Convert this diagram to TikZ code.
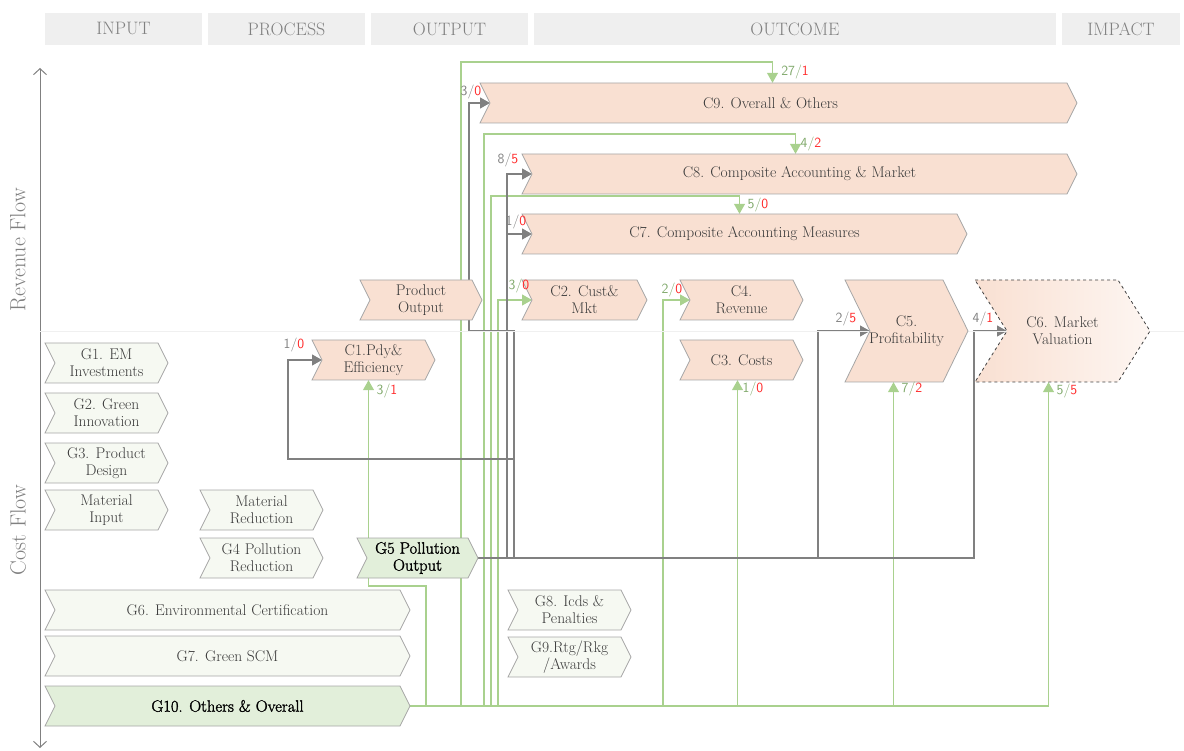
\documentclass[tikz,border=0pt]{standalone}
\usepackage{fontspec}
\newfontface\semib[FakeBold=1.6]{Latin Modern Roman}
\usetikzlibrary{arrows.meta}
\pgfdeclarelayer{back}
\pgfsetlayers{back,main}

\definecolor{peach}{HTML}{F9E0D2}
\definecolor{pale}{HTML}{F6F9F2}
\definecolor{leaf}{HTML}{E2EFDA}
\definecolor{edge}{HTML}{A6A6A6}
\definecolor{lgreen}{HTML}{A9D18E}
\definecolor{lgray}{HTML}{808080}
\definecolor{ink}{HTML}{3A3A3A}
\definecolor{numgr}{HTML}{7FA86A}
\definecolor{numred}{HTML}{FF2A2A}
\definecolor{headfill}{HTML}{EFEFEF}

% chevron: style, name, left, top, right, bottom, notch, text
\newcommand{\chev}[8]{%
  \path[#1] (#3,#4) -- ({#5-#7},#4) -- (#5,{(#4+#6)/2}) -- ({#5-#7},#6)
    -- (#3,#6) -- ({#3+#7},{(#4+#6)/2}) -- cycle;
  \node[txt,minimum width={(#5-#3)*1pt},minimum height={(#6-#4)*1pt}]
    (#2) at ({(#3+#5)/2},{(#4+#6)/2}) {#8};
  \coordinate (#2-in) at ({#3+#7},{(#4+#6)/2});
}

\tikzset{
  cbox/.style={fill=peach,draw=edge,line width=0.8pt},
  gbox/.style={fill=pale,draw=edge,line width=0.8pt},
  lbox/.style={fill=leaf,draw=edge,line width=0.8pt},
  vbox/.style={left color=peach,right color=peach!30,draw=black!75,dashed,line width=0.8pt},
  txt/.style={inner sep=0pt,align=center,text=ink,font=\fontsize{15.5}{17}\selectfont},
  dark/.style={text=black,font=\semib\fontsize{16.5}{17}\selectfont},
  head/.style={fill=headfill,text=lgray,inner sep=0pt,font=\fontsize{18}{18}\selectfont},
  gl/.style={draw=lgreen,line width=1.1pt,-{Triangle[length=10pt,width=11pt]}},
  gr/.style={draw=lgray,line width=1.1pt,-{Triangle[length=10pt,width=11pt]}},
  lab/.style={inner sep=0pt,font=\sffamily\fontsize{14}{14}\selectfont},
}

\begin{document}
\begin{tikzpicture}[x=1pt,y=-1pt]
\useasboundingbox (0,0) rectangle (1184,751);
% column heads
\foreach \l/\r/\t in {45/202/INPUT,208/365/PROCESS,371/528/OUTPUT,534/1056/OUTCOME,1062/1180/IMPACT}
	\node[head,minimum width={(\r-\l)*1pt},minimum height=32pt] (h\t) at ({(\l+\r)/2},29) {\t};

% flow axis
\node[rotate=90,text=lgray,font=\fontsize{22}{22}\selectfont] (rev) at (18,250) {Revenue Flow};
\node[rotate=90,text=lgray,font=\fontsize{22}{22}\selectfont] (cost) at (18,530) {Cost Flow};
\coordinate (top) at (40,68);
\coordinate (bot) at (40,748);
\draw[lgray,line width=1pt,{Straight Barb[length=6pt,width=13pt]}-{Straight Barb[length=6pt,width=13pt]}] (bot) -- (top);
\draw[black!6,line width=1pt] (40,332) -- (1184,332);

% outcome boxes
\foreach \n/\l/\t/\r/\b/\s in {c9/480/83/1077/123/{C9. Overall \& Others\hspace*{16pt}},
		c8/522/154/1077/194/{C8. Composite Accounting \& Market},
		c7/522/214/967/254/{C7. Composite Accounting Measures},
		po/360/280/482/320/{Product\\Output},
		c2/522/280/647/320/{C2. Cust\&\\Mkt},
		c4/680/280/803/320/{C4.\\Revenue},
		c3/680/340/803/380/{C3. Costs},
		c1/312/340/435/380/{C1.Pdy\&\\Efficiency}}
	\chev{cbox}{\n}{\l}{\t}{\r}{\b}{10}{\s};
\chev{cbox}{c5}{845}{280}{968}{382}{25}{C5.\\Profitability}
\chev{vbox}{c6}{975}{280}{1150}{382}{32}{C6. Market\\Valuation}

% green management boxes
\foreach \n/\l/\t/\r/\b/\s in {g1/45/343/168/383/{G1. EM\\Investments},
		g2/45/393/168/433/{G2. Green\\Innovation},
		g3/45/443/168/483/{G3. Product\\Design},
		mi/45/490/168/530/{Material\\Input},
		mr/200/490/323/530/{Material\\Reduction},
		g4/200/538/323/578/{G4 Pollution\\Reduction},
		g6/45/590/410/630/{G6. Environmental Certification},
		g7/45/636/410/676/{G7. Green SCM},
		g8/508/590/631/630/{G8. Icds \&\\Penalties},
		g9/508/637/631/677/{G9.Rtg/Rkg\\/Awards}}
	\chev{gbox}{\n}{\l}{\t}{\r}{\b}{10}{\s};
\tikzset{txt/.append style={dark}}
\chev{lbox}{g5}{357}{538}{478}{578}{10}{G5 Pollution\\Output}
\chev{lbox}{g10}{45}{686}{410}{726}{10}{G10. Others \& Overall}

\begin{pgfonlayer}{back}
% cost flow links
\draw[gl] (g10.east) -| ([xshift=-14pt]c6.south);
\draw[gl] (g10.east) -| ([xshift=-13pt]c5.south);
\draw[gl] (g10.east) -| ([xshift=-4pt]c3.south);
\draw[gl] (g10.east) -| ([xshift=-27pt]c4-in) -- (c4-in);
\draw[gl] (g10.east) -| ([xshift=-34pt]c2-in) -- (c2-in);
\draw[gl] (g10.east) -| (491,196) -| ([xshift=-5pt]c7.north);
\draw[gl] (g10.east) -| (484,134) -| ([xshift=-4pt]c8.north);
\draw[gl] (g10.east) -| (461,62) -| ([xshift=-6pt]c9.north);
\draw[gl] (g10.east) -| (426,586) -| ([xshift=-5pt]c1.south);
% pollution output links
\draw[gr] (g5.east) -| (514,459) -| ([xshift=-34pt]c1-in) -- (c1-in);
\draw[gr] (g5.east) -| (514,331) -| ([xshift=-21pt]c9-in) -- (c9-in);
\draw[gr] (g5.east) -| ([xshift=-25pt]c8-in) -- (c8-in);
\draw[gr] (g5.east) -| ([xshift=-25pt]c7-in) -- (c7-in);
\draw[gr] (g5.east) -| ([xshift=-52pt]c5-in) -- (c5-in);
\draw[gr] (g5.east) -| ([xshift=-33pt]c6-in) -- (c6-in);
\end{pgfonlayer}

% counts
\foreach \n/\x/\y/\c/\a/\b in {q9/471/92/lgray/3/0,q9t/795/72/numgr/27/1,
		q8t/811/144/numgr/4/2,q8/508/160/lgray/8/5,q7t/758/205/numgr/5/0,
		q7/516/222/lgray/1/0,q2/519/286/numgr/3/0,q4/672/290/numgr/2/0,
		q1/294/345/lgray/1/0,q1b/387/391/numgr/3/1,q3/753/389/numgr/1/0,
		q5/846/319/lgray/2/5,q5b/912/389/numgr/7/2,q6/983/319/lgray/4/1,
		q6b/1067/391/numgr/5/5}
	\node[lab] (\n) at (\x,\y) {\textcolor{\c}{\a/}\textcolor{numred}{\b}};
\end{tikzpicture}
\end{document}
